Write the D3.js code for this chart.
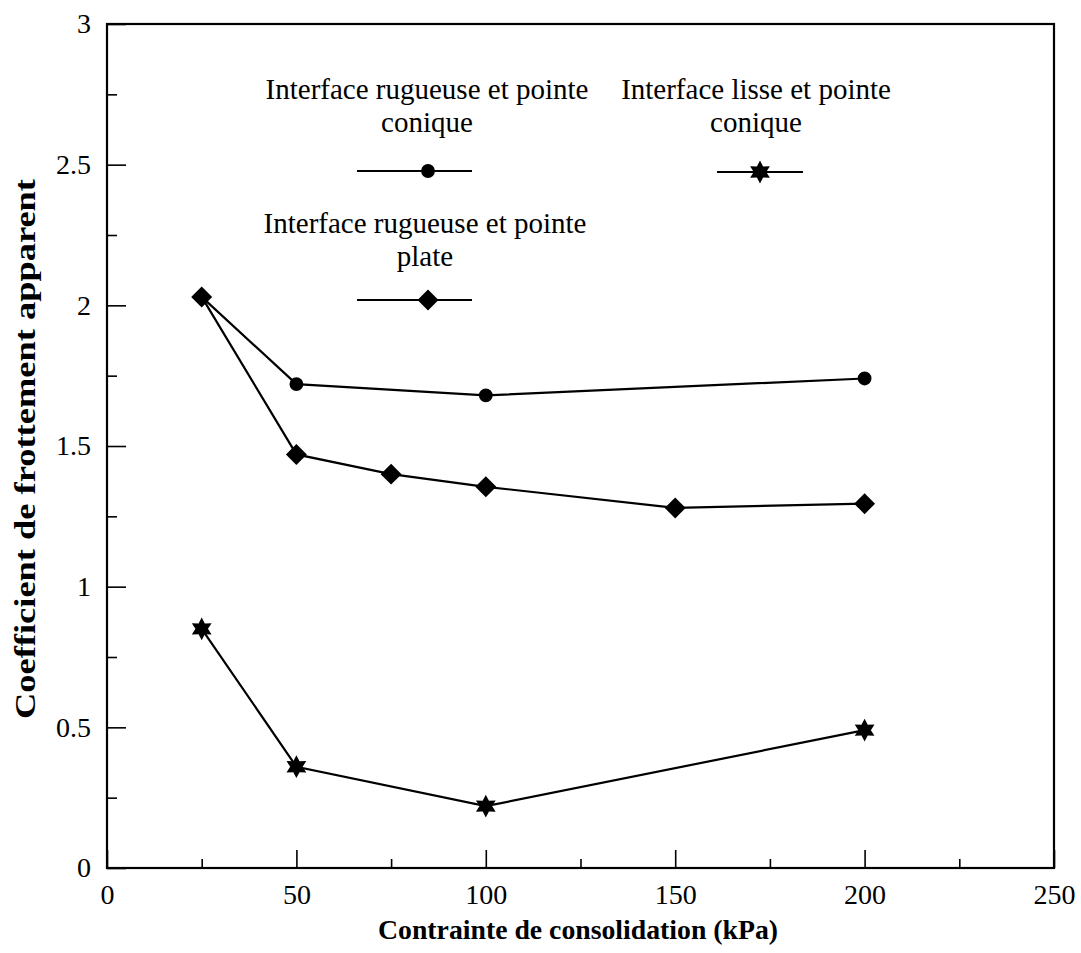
<!DOCTYPE html>
<html><head><meta charset="utf-8">
<script src="https://cdn.jsdelivr.net/npm/d3@7"></script>
<style>body{margin:0;background:#fff}text{font-family:"Liberation Serif","Times New Roman",serif;fill:#000}</style>
</head><body>
<svg id="c" width="1081" height="953"></svg>
<script>
const xCirc = [25, 50, 100, 200];
const yCirc = [2.03, 1.72, 1.68, 1.74];
const xDiam = [25, 50, 75, 100, 150, 200];
const yDiam = [2.03, 1.47, 1.40, 1.355, 1.28, 1.295];
const xStar = [25, 50, 100, 200];
const yStar = [0.85, 0.36, 0.22, 0.49];
const xTicks = [0, 50, 100, 150, 200, 250];
const xMinor = [25, 75, 125, 175, 225];
const yTicks = [0, 0.5, 1, 1.5, 2, 2.5, 3];
const yMinor = [0.25, 0.75, 1.25, 1.75, 2.25, 2.75];
const legendNames = ["Interface rugueuse et pointe|conique", "Interface rugueuse et pointe|plate", "Interface lisse et pointe|conique"];
const xTitle = "Contrainte de consolidation (kPa)";
const yTitle = "Coefficient de frottement apparent";

const svg = d3.select("#c");
const L = 107, R = 1054, T = 24, B = 868;
const FS = 28;
const x = d3.scaleLinear().domain([0, 250]).range([L, R]);
const y = d3.scaleLinear().domain([0, 3]).range([B, T]);

// frame
svg.append("rect").attr("x", L).attr("y", T).attr("width", R - L).attr("height", B - T)
  .attr("fill", "none").attr("stroke", "#000").attr("stroke-width", 2.2);

// axes with inward ticks
const gx = svg.append("g").attr("transform", `translate(0,${B})`)
  .call(d3.axisBottom(x).tickValues(xTicks).tickSize(-18).tickPadding(28).tickFormat(d3.format("d")));
const gxm = svg.append("g").attr("transform", `translate(0,${B})`)
  .call(d3.axisBottom(x).tickValues(xMinor).tickSize(-9).tickFormat(""));
const gy = svg.append("g").attr("transform", `translate(${L},0)`)
  .call(d3.axisLeft(y).tickValues(yTicks).tickSize(-19).tickPadding(16).tickFormat(d => d));
const gym = svg.append("g").attr("transform", `translate(${L},0)`)
  .call(d3.axisLeft(y).tickValues(yMinor).tickSize(-10).tickFormat(""));
[gx, gxm, gy, gym].forEach(g => {
  g.attr("font-size", FS).attr("font-family", "Liberation Serif");
  g.select(".domain").remove();
  g.selectAll(".tick line").attr("stroke", "#000").attr("stroke-width", 1.6);
  g.selectAll("text").attr("fill", "#000");
});
gx.selectAll(".tick text").attr("dy", "0.3em");
gy.selectAll(".tick text").attr("text-anchor", "end");

// titles
svg.append("text").attr("x", 578).attr("y", 939).attr("text-anchor", "middle")
  .attr("font-size", FS).attr("font-weight", "bold")
  .attr("textLength", 400).attr("lengthAdjust", "spacingAndGlyphs").text(xTitle);
svg.append("text").attr("transform", "translate(35,449) rotate(-90)").attr("text-anchor", "middle")
  .attr("font-size", 29).attr("font-weight", "bold")
  .attr("textLength", 540).attr("lengthAdjust", "spacingAndGlyphs").text(yTitle);

// markers
const line = d3.line().x(d => x(d[0])).y(d => y(d[1]));
const star = {
  draw(ctx, size) {
    const ro = Math.sqrt(size) , ri = ro * 0.55;
    for (let i = 0; i < 12; i++) {
      const r = i % 2 ? ri : ro, a = i * Math.PI / 6 - Math.PI / 2;
      i ? ctx.lineTo(r * Math.cos(a), r * Math.sin(a)) : ctx.moveTo(r * Math.cos(a), r * Math.sin(a));
    }
    ctx.closePath();
  }
};
const diam = {
  draw(ctx, size) { const r = Math.sqrt(size); ctx.moveTo(0, -r); ctx.lineTo(r, 0); ctx.lineTo(0, r); ctx.lineTo(-r, 0); ctx.closePath(); }
};
const series = [
  {xs: xCirc, ys: yCirc, sym: d3.symbolCircle, size: 150},
  {xs: xDiam, ys: yDiam, sym: diam, size: 110},
  {xs: xStar, ys: yStar, sym: star, size: 130}
];
series.forEach(s => {
  const pts = s.xs.map((v, i) => [v, s.ys[i]]);
  svg.append("path").datum(pts).attr("d", line).attr("fill", "none").attr("stroke", "#000").attr("stroke-width", 2.2);
  svg.selectAll(null).data(pts).join("path")
    .attr("transform", d => `translate(${x(d[0])},${y(d[1])})`)
    .attr("d", d3.symbol(s.sym, s.size)).attr("fill", "#000");
});

// legend
const leg = [
  {cx: 427, ty: 99, ly: 171, x0: 357, x1: 472, mx: 428},
  {cx: 425, ty: 233, ly: 300, x0: 357, x1: 472, mx: 428},
  {cx: 756, ty: 99, ly: 172, x0: 717, x1: 803, mx: 760}
];
leg.forEach((l, i) => {
  const parts = legendNames[i].split("|");
  parts.forEach((p, j) => svg.append("text").attr("x", l.cx).attr("y", l.ty + j * 33)
    .attr("text-anchor", "middle").attr("font-size", 29).text(p));
  svg.append("line").attr("x1", l.x0).attr("x2", l.x1).attr("y1", l.ly).attr("y2", l.ly)
    .attr("stroke", "#000").attr("stroke-width", 2);
  svg.append("path").attr("transform", `translate(${l.mx},${l.ly})`)
    .attr("d", d3.symbol(series[i].sym, series[i].size)).attr("fill", "#000");
});
</script>
</body></html>
